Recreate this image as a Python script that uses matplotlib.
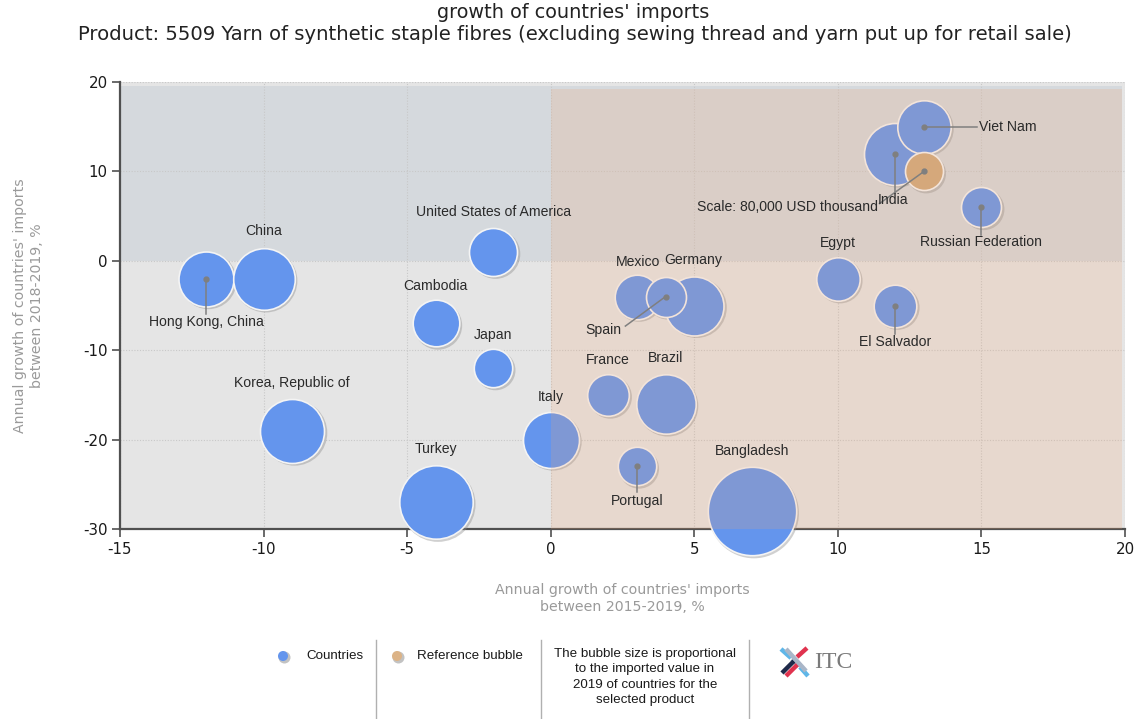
import numpy as np
import matplotlib
matplotlib.use("Agg")
import matplotlib.pyplot as plt
from matplotlib.patches import Rectangle
from matplotlib.lines import Line2D
import matplotlib.transforms as mtransforms

plt.rcParams["axes.unicode_minus"] = False

# ---------------- data ----------------
countries = ["Hong Kong, China", "China", "United States of America", "Cambodia",
             "Japan", "Korea, Republic of", "Turkey", "Italy", "France", "Brazil",
             "Portugal", "Bangladesh", "Mexico", "Germany", "Spain", "Egypt",
             "El Salvador", "India", "Viet Nam", "Russian Federation"]
growth_2015_2019 = [-12, -10, -2, -4, -2, -9, -4, 0, 2, 4, 3, 7, 3, 5, 4, 10, 12, 12, 13, 15]
growth_2018_2019 = [-2, -2, 1, -7, -12, -19, -27, -20, -15, -16, -23, -28, -4, -5, -4, -2, -5, 12, 15, 6]
import_value_2019 = [167600, 210200, 127700, 120300, 81700, 227000, 298500, 173700, 95900,
                     195500, 81700, 433000, 110000, 192900, 88600, 104400, 100500, 213000,
                     158000, 88600]
reference_value = 80000
reference_x = 13
reference_y = 10
x_ticks = [-15, -10, -5, 0, 5, 10, 15, 20]
y_ticks = [-30, -20, -10, 0, 10, 20]

# ---------------- layout helpers ----------------
W, H = 1137, 719
fig = plt.figure(figsize=(W / 100, H / 100), dpi=100)

def P(x, y):
    return (x / W, 1 - y / H)

ax = fig.add_axes([120 / W, 1 - 529 / H, (1125 - 120) / W, (529 - 82) / H])
ax.set_xlim(-15, 20)
ax.set_ylim(-30, 20)
ax.set_facecolor("#e5e5e5")

REF_R_PX = 19.0
def size_pts2(v, extra=0.0):
    r_px = REF_R_PX * np.sqrt(np.asarray(v, dtype=float) / reference_value) + extra
    return (2 * r_px * 0.72) ** 2

# quadrant shading
ax.add_patch(Rectangle((-15, 0), 34.9, 19.55, facecolor="#d5d9dd", edgecolor="none", zorder=0.5))
ax.add_patch(Rectangle((0, -30), 19.9, 49.2, facecolor=(240 / 255, 165 / 255, 115 / 255),
                       alpha=0.2, edgecolor="none", zorder=3.5))

# grid
ax.set_xticks(x_ticks)
ax.set_yticks(y_ticks)
ax.grid(True, color="#c8c8c8", linestyle=(0, (1, 1.5)), linewidth=0.8, zorder=0.6)
ax.set_axisbelow(True)

for s in ["top", "right"]:
    ax.spines[s].set_visible(False)
for s in ["left", "bottom"]:
    ax.spines[s].set_color("#505050")
    ax.spines[s].set_linewidth(1.6)
    ax.spines[s].set_zorder(2.5)

ax.tick_params(axis="both", direction="out", length=6, width=1.2, color="#505050",
               labelsize=10.8, labelcolor="#1a1a1a", pad=3)
for lab in ax.get_xticklabels() + ax.get_yticklabels():
    lab.set_family("DejaVu Sans")

# bubbles (with drop shadow)
shadow_tr = mtransforms.offset_copy(ax.transData, fig=fig, x=2.2, y=-2.2, units="dots")
xs = np.array(growth_2015_2019, dtype=float)
ys = np.array(growth_2018_2019, dtype=float)
vals = np.array(import_value_2019, dtype=float)

for i in range(len(countries)):
    ax.scatter([xs[i]], [ys[i]], s=size_pts2(vals[i], 0.8), color="#8a8a8a", alpha=0.4,
               edgecolors="none", transform=shadow_tr, zorder=2.9, clip_on=False)
    ax.scatter([xs[i]], [ys[i]], s=size_pts2(vals[i]), color="#6495ed",
               edgecolors="#f4f4f4", linewidths=1.2, zorder=3, clip_on=False)

# reference bubble
ax.scatter([reference_x], [reference_y], s=size_pts2(reference_value, 0.8), color="#8a8a8a",
           alpha=0.4, edgecolors="none", transform=shadow_tr, zorder=2.9)
ax.scatter([reference_x], [reference_y], s=size_pts2(reference_value), color="#cfa97e",
           edgecolors="#f4f4f4", linewidths=1.2, zorder=3)

# labels
LBL = dict(fontsize=10.1, color="#2a2a2a", family="Liberation Sans", zorder=5)
plain_labels = {
    "China": (-10, 3.3), "United States of America": (-2, 5.5), "Cambodia": (-4, -2.8),
    "Japan": (-2, -8.3), "Korea, Republic of": (-9, -13.7), "Turkey": (-4, -21.05),
    "Italy": (0, -15.2), "France": (2, -11.1), "Brazil": (4, -10.9),
    "Bangladesh": (7, -21.3), "Mexico": (3.05, -0.13), "Germany": (4.95, 0.1),
    "Egypt": (10, 2.0),
}
for name, (lx, ly) in plain_labels.items():
    ax.text(lx, ly, name, ha="center", va="center", **LBL)

leader_labels = {
    "Hong Kong, China": ((-12, -5.9), (-12, -6.85), "center"),
    "India": ((12, 7.6), (11.93, 6.8), "center"),
    "Viet Nam": ((14.85, 15), (14.9, 15), "left"),
    "Russian Federation": ((15, 2.9), (15, 2.1), "center"),
    "El Salvador": ((12, -8.2), (12, -9.1), "center"),
    "Spain": ((2.6, -7.3), (1.85, -7.74), "center"),
    "Portugal": ((3, -25.9), (3, -26.9), "center"),
}
for name, (end, pos, ha) in leader_labels.items():
    i = countries.index(name)
    ax.plot([xs[i], end[0]], [ys[i], end[1]], color="#7f7f7f", lw=1.1, zorder=4.5)
    ax.plot([xs[i]], [ys[i]], "o", ms=3.5, color="#7f7f7f", zorder=4.6)
    ax.text(pos[0], pos[1], name, ha=ha, va="center", **LBL)

ax.plot([reference_x, 11.45], [reference_y, 6.4], color="#7f7f7f", lw=1.1, zorder=4.5)
ax.plot([reference_x], [reference_y], "o", ms=3.5, color="#7f7f7f", zorder=4.6)
ax.text(11.4, 6.0, "Scale: 80,000 USD thousand", ha="right", va="center", **LBL)

# axis titles
ax.set_xlabel("Annual growth of countries' imports\nbetween 2015-2019, %", fontsize=10.2,
              color="#9a9a9a", family="DejaVu Sans", labelpad=19, linespacing=1.25)
ax.set_ylabel("Annual growth of countries' imports\nbetween 2018-2019, %", fontsize=10.2,
              color="#9a9a9a", family="DejaVu Sans", labelpad=28, linespacing=1.3)

# titles
fig.text(*P(573, 13), "growth of countries' imports", ha="center", va="center",
         fontsize=13.9, color="#222222", family="DejaVu Sans")
fig.text(*P(575, 35), "Product: 5509 Yarn of synthetic staple fibres (excluding sewing thread and yarn put up for retail sale)",
         ha="center", va="center", fontsize=14.1, color="#222222", family="DejaVu Sans")

# ---------------- legend area ----------------
LEG = dict(fontsize=9.6, color="#1a1a1a", family="Liberation Sans")
for xp in [376, 541, 749]:
    fig.add_artist(Line2D([xp / W, xp / W], [1 - 640 / H, 1 - 718 / H], color="#b0b0b0", lw=1))

leg_ax = fig.add_axes([0, 0, 1, 1], facecolor="none")
leg_ax.set_xlim(0, W)
leg_ax.set_ylim(H, 0)
leg_ax.axis("off")
for xp, col in [(283, "#6495ed"), (397, "#dcb386")]:
    leg_ax.scatter([xp + 1.5], [656 + 1.5], s=(12 * 0.72) ** 2, color="#9a9a9a", alpha=0.6, edgecolors="none")
    leg_ax.scatter([xp], [656], s=(10 * 0.72) ** 2, color=col, edgecolors="none")

fig.text(*P(306, 656), "Countries", ha="left", va="center", **LEG)
fig.text(*P(417, 656), "Reference bubble", ha="left", va="center", **LEG)
fig.text(*P(645, 677), "The bubble size is proportional\nto the imported value in\n2019 of countries for the\nselected product",
         ha="center", va="center", linespacing=1.38, **LEG)

# ITC logo (approximation)
logo_segments = [
    ((781, 649), (791, 658), "#5fb6e8"),
    ((792, 659), (799, 666), "#a9b6c8"),
    ((800, 667), (808, 676), "#5fb6e8"),
    ((807, 648), (797, 657), "#e0334f"),
    ((794, 661), (782, 673), "#1f2a4a"),
    ((786, 676), (800, 662), "#e0334f"),
    ((786, 649), (806, 671), "#a9b6c8"),
]
for (x0, y0), (x1, y1), col in logo_segments:
    leg_ax.plot([x0, x1], [y0, y1], color=col, lw=3.2, solid_capstyle="butt")
fig.text(*P(814, 663), "ITC", ha="left", va="center", fontsize=17, color="#7a7a7a",
         family="Liberation Serif")

fig.savefig("out.png", dpi=100)
